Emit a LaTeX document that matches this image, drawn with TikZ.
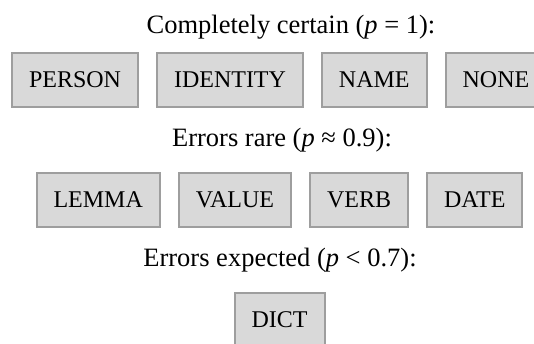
\documentclass[tikz,border=0pt]{standalone}
\usepackage{fontspec}
\setmainfont{Liberation Serif}
\usepackage{tikz}
\usetikzlibrary{positioning}
\definecolor{boxfill}{RGB}{217,217,217}
\definecolor{boxline}{RGB}{158,158,158}

\begin{document}
\begin{tikzpicture}[
    x=1pt, y=-1pt,
    node distance=17pt,
    tag/.style={rectangle, draw=boxline, line width=2pt, fill=boxfill, inner xsep=17pt, inner ysep=0pt, minimum height=54pt, font=\fontsize{24}{28}\selectfont},
    title/.style={anchor=base, inner sep=0pt, font=\fontsize{26.5}{30}\selectfont}
]
\clip (0,0) rectangle (534,343);
\fill[white] (0,0) rectangle (534,343);

% Level 1: completely certain
\node[title] (certain) at (291,33) {Completely certain (\textit{p} = 1):};
\node[tag, anchor=west] (person) at (11,79.5) {PERSON};
\node[tag, right=of person] (identity) {IDENTITY};
\node[tag, right=of identity] (name) {NAME};
\node[tag, right=of name] (none) {NONE};

% Level 2: errors rare
\node[title] (rare) at (282,146) {Errors rare (\textit{p} ≈ 0.9):};
\node[tag, anchor=west] (lemma) at (35.5,199.5) {LEMMA};
\node[tag, right=of lemma] (value) {VALUE};
\node[tag, right=of value] (verb) {VERB};
\node[tag, right=of verb] (date) {DATE};

% Level 3: errors expected
\node[title] (expected) at (280,266) {Errors expected (\textit{p} < 0.7):};
\node[tag] (dict) at (279.5,319.5) {DICT};

\end{tikzpicture}
\end{document}
